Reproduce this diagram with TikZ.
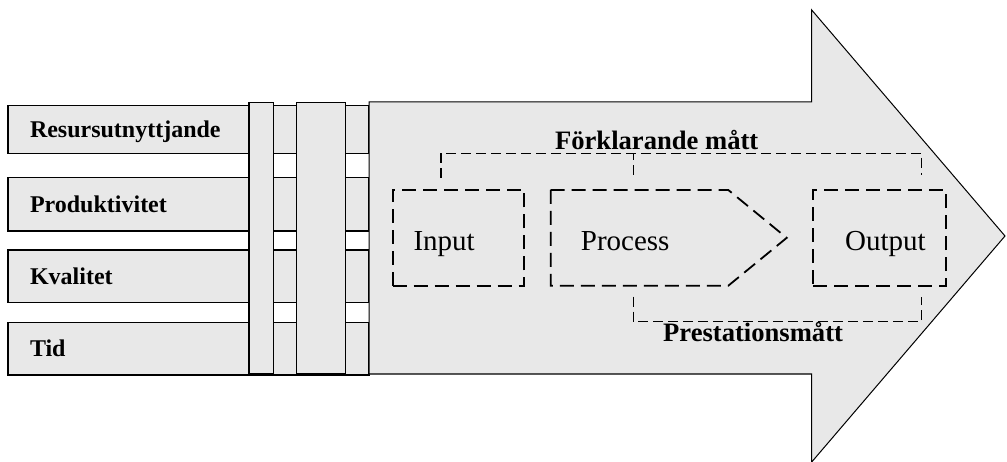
\documentclass[tikz,border=0pt]{standalone}
\usepackage{fontspec}
\setmainfont{Liberation Serif}
\definecolor{grafyll}{RGB}{232,232,232}
\usetikzlibrary{positioning}

\begin{document}
\begin{tikzpicture}[
    x=1pt, y=-1pt,
    stapel/.style={
        rectangle,
        draw=black,
        fill=grafyll,
        line width=1.3pt
    },
    matt/.style={
        stapel,
        minimum width=361pt,
        text width=317pt,
        inner xsep=22pt,
        align=left,
        text height=16pt,
        text depth=0pt,
        font=\fontsize{24}{28}\selectfont\bfseries
    },
    pil/.style={
        draw=black,
        fill=grafyll,
        line width=1pt,
        line join=miter
    },
    ruta/.style={
        rectangle,
        draw=black,
        line width=1.8pt,
        dash pattern=on 14pt off 7pt
    },
    klammer/.style={
        draw=black,
        line width=1.4pt,
        dash pattern=on 10pt off 5pt
    },
    etikett/.style={
        inner sep=0pt,
        anchor=base west,
        font=\fontsize{29}{34}\selectfont
    },
    rubrik/.style={
        inner sep=0pt,
        font=\fontsize{26.6}{31}\selectfont\bfseries
    }
]
\useasboundingbox (0,0) rectangle (1007,462);

% STAPLAR
\node[matt, minimum height=47.6pt] (resurs) at (188.5,129.5) {Resursutnyttjande};
\node[matt, minimum height=53.3pt] (produkt) at (188.5,204.35) {Produktivitet};
\node[matt, minimum height=52.3pt] (kvalitet) at (188.5,276.15) {Kvalitet};
\node[matt, minimum height=52.7pt] (tid) at (188.5,348.65) {Tid};

\draw[stapel] (249,102.3) rectangle (273.3,373.3);
\draw[stapel] (296.7,102.3) rectangle (345.7,373.3);

% PILEN
\draw[pil] (369,102) -- (811.7,102) -- (811.7,10) -- (1005,236)
    -- (811.7,462) -- (811.7,374) -- (369,374) -- cycle;

% RUTOR
\node[ruta, minimum width=131.6pt, minimum height=95.7pt] (input) at (458.5,237.85) {};
\node[ruta, minimum width=132.4pt, minimum height=95.7pt] (output) at (879.5,237.85) {};
\draw[ruta] (550.7,190) coordinate (process) -- (728.3,190) -- (786.7,237.85)
    -- (728.3,285.7) -- (550.7,285.7) -- cycle;

\node[etikett] (inputtxt) at (413.3,251) {Input};
\node[etikett] (processtxt) at (580.7,251) {Process};
\node[etikett] (outputtxt) at (845,250.5) {Output};

% KLAMMER
\coordinate (fin) at (441,178);
\coordinate (fpro) at (633.3,175);
\coordinate (fout) at (921.7,175);
\coordinate (pin) at (633.3,296.7);
\coordinate (pout) at (921.7,296.7);

\draw[klammer] (fin) -- ++(0,-24.7) -| (fout);
\draw[klammer] (fpro) -- ++(0,-21.7);
\draw[klammer] (pin) -- ++(0,25) -| (pout);

\node[rubrik, anchor=base] (forkl) at (656.7,150) {Förklarande mått};
\node[rubrik, anchor=base west] (prest) at (663,341.7) {Prestationsmått};

\end{tikzpicture}
\end{document}
